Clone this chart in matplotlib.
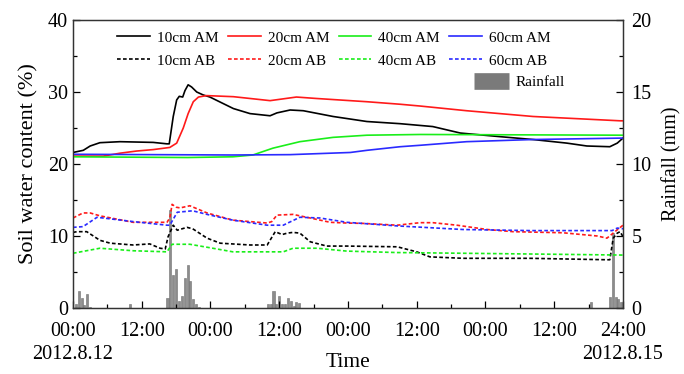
import matplotlib
matplotlib.use("Agg")
import matplotlib.pyplot as plt
from matplotlib.lines import Line2D

plt.rcParams['font.family'] = ['Liberation Serif', 'DejaVu Serif']

# ---- data (hours from 2012.8.12 00:00) ----
t_10am = [0, 1.8, 3.0, 4.7, 8.2, 14.0, 16.4, 16.8, 17.5, 18.1, 18.55, 19.15, 19.55, 20.1, 20.7, 21.6,
          22.7, 23.9, 28.0, 30.9, 34.4, 35.6, 37.9, 40.2, 45.4, 51.3, 57.1, 62.8, 67.6, 74.5, 80.3,
          86.2, 89.7, 93.7, 95.0, 96]
v_10am = [21.6, 21.9, 22.5, 22.96, 23.1, 23.0, 22.8, 22.8, 26.6, 28.9, 29.4, 29.3, 30.2, 31.0, 30.7, 30.0,
          29.6, 29.3, 27.7, 27.0, 26.7, 27.1, 27.5, 27.4, 26.6, 25.9, 25.6, 25.2, 24.3, 23.8, 23.4,
          22.9, 22.5, 22.4, 22.9, 23.6]

t_20am = [0, 5.3, 8.2, 11.1, 14.0, 16.9, 18.1, 19.25, 20.1, 21.0, 21.9, 23.3, 28.0, 34.4, 39.0, 42.5,
          51.3, 57.1, 60.6, 68.7, 80.3, 95.5, 96]
v_20am = [21.1, 21.1, 21.5, 21.8, 22.0, 22.3, 22.9, 25.0, 27.0, 28.65, 29.3, 29.5, 29.35, 28.8, 29.3, 29.1,
          28.65, 28.3, 28.05, 27.4, 26.6, 26.0, 26.0]

t_40am = [0, 10, 20, 27.9, 31.4, 34.9, 39.6, 45.4, 51.3, 60.6, 96]
v_40am = [21.0, 20.95, 20.9, 21.0, 21.25, 22.2, 23.1, 23.7, 24.0, 24.1, 24.0]

t_60am = [0, 27.9, 37.9, 48.4, 51.3, 57.1, 60.6, 68.7, 80.3, 96]
v_60am = [21.35, 21.25, 21.3, 21.6, 21.9, 22.4, 22.6, 23.1, 23.4, 23.6]

t_10ab = [0, 0.7, 2.4, 4.7, 6.5, 10.5, 13.4, 15.2, 16.1, 16.6, 17.5, 18.2, 19.9, 20.9, 23.4, 25.7,
          30.9, 33.9, 35.3, 36.5, 37.4, 38.4, 39.6, 41.4, 44.3, 47.8, 56.6, 60.0, 62.3, 68.1, 79.8,
          93.2, 93.7, 94.3, 95.0, 95.5, 96]
v_10ab = [10.5, 10.6, 10.6, 9.4, 9.0, 8.75, 8.9, 8.3, 8.2, 9.9, 11.5, 10.8, 11.2, 11.0, 9.7, 9.0,
          8.75, 8.75, 10.6, 10.2, 10.4, 10.5, 10.4, 9.2, 8.6, 8.6, 8.5, 7.8, 7.1, 6.9, 6.9,
          6.7, 6.7, 9.7, 10.4, 10.6, 9.9]

t_20ab = [0, 1.75, 3.0, 4.7, 10.5, 16.4, 16.9, 17.3, 18.0, 18.7, 20.4, 23.4, 27.9, 33.9, 34.7, 35.6,
          38.4, 41.4, 44.9, 47.8, 50.6, 56.6, 60.6, 62.8, 67.0, 72.3, 76.8, 85.5, 91.5, 93.2, 94.6, 96]
v_20ab = [12.5, 13.2, 13.2, 12.8, 11.9, 11.9, 12.5, 14.4, 14.0, 13.9, 14.2, 13.2, 12.2, 11.8, 12.0, 12.9,
          13.0, 12.5, 11.9, 11.8, 11.75, 11.5, 11.85, 11.85, 11.5, 10.9, 10.6, 10.45, 10.0, 9.7, 10.6, 11.5]

t_40ab = [0, 4.7, 10.5, 16.4, 17.3, 20.4, 24.4, 27.9, 36.7, 38.4, 42.6, 47.8, 56.6, 79.8, 96]
v_40ab = [7.6, 8.3, 7.95, 7.8, 8.85, 8.85, 8.3, 7.8, 7.8, 8.3, 8.3, 7.9, 7.7, 7.5, 7.35]

t_60ab = [0, 1.75, 4.2, 10.5, 16.4, 16.9, 18.2, 20.9, 23.4, 27.9, 33.9, 36.7, 39.6, 43.1, 47.8,
          56.6, 68.1, 79.8, 94.1, 95.0, 96]
v_60ab = [11.2, 11.3, 12.6, 12.0, 11.5, 11.5, 13.3, 13.5, 13.0, 12.2, 11.5, 11.5, 12.6, 12.5, 11.9,
          11.4, 10.9, 10.75, 10.75, 11.1, 11.0]

rain_t = [0.5, 1.0, 1.5, 2.0, 2.5, 3.0, 10.0,
          16.5, 17.0, 17.5, 18.0, 18.5, 19.0, 19.5, 20.0, 20.5, 21.0, 21.5, 22.0,
          34.0, 34.5, 35.0, 35.5, 36.0, 36.5, 37.0, 37.5, 38.0, 38.5, 39.0, 39.5,
          90.4, 93.8, 94.3, 94.7, 95.1, 95.6]
rain_mm = [0.3, 1.2, 0.7, 0.2, 0.95, 0.1, 0.25,
           0.7, 6.8, 2.3, 2.7, 0.5, 0.8, 2.1, 3.0, 1.9, 0.6, 0.25, 0.1,
           0.3, 0.3, 1.15, 0.25, 0.8, 0.3, 0.3, 0.7, 0.5, 0.15, 0.4, 0.35,
           0.45, 0.75, 5.2, 0.75, 0.6, 0.45]

tick_hours = [0, 12, 24, 36, 48, 60, 72, 84, 96]
tick_labels = ['00:00', '12:00', '00:00', '12:00', '00:00', '12:00', '00:00', '12:00', '24:00']
date_start = '2012.8.12'
date_end = '2012.8.15'

# ---- figure ----
fig = plt.figure(figsize=(6.84, 3.74), dpi=100)
ax = fig.add_axes([0.1067, 0.1765, 0.8041, 0.77])
ax2 = ax.twinx()
ax.set_zorder(ax2.get_zorder() + 1)
ax.patch.set_visible(False)

ax2.bar(rain_t, rain_mm, width=0.36, color='#8c8c8c', edgecolor='#707070', linewidth=0.4)

lw = 1.2
ds = (0, (2.2, 1.4))
series = [
    (t_10am, v_10am, 'black', '-', '10cm AM'),
    (t_20am, v_20am, '#ff1a1a', '-', '20cm AM'),
    (t_40am, v_40am, '#1aee1a', '-', '40cm AM'),
    (t_60am, v_60am, '#2a2aff', '-', '60cm AM'),
    (t_10ab, v_10ab, 'black', ds, '10cm AB'),
    (t_20ab, v_20ab, '#ff1a1a', ds, '20cm AB'),
    (t_40ab, v_40ab, '#1aee1a', ds, '40cm AB'),
    (t_60ab, v_60ab, '#2a2aff', ds, '60cm AB'),
]
handles = {}
for t, v, c, ls, lab in series:
    h, = ax.plot(t, v, color=c, linestyle=ls, lw=lw, label=lab)
    handles[lab] = h

ax.set_xlim(0, 96)
ax.set_ylim(0, 40)
ax2.set_ylim(0, 20)
ax.set_xticks(tick_hours)
ax.set_xticklabels(tick_labels)
ax.set_xticks(range(6, 96, 12), minor=True)
ax.set_yticks([0, 10, 20, 30, 40])
ax.set_yticks([5, 15, 25, 35], minor=True)
ax2.set_yticks([0, 5, 10, 15, 20])
ax2.set_yticks([2.5, 7.5, 12.5, 17.5], minor=True)

fs = 14.5
for a in (ax, ax2):
    a.tick_params(which='both', direction='in', labelsize=fs, top=False)
    a.tick_params(which='major', length=5, width=0.9)
    a.tick_params(which='minor', length=3, width=0.9)
    for s in a.spines.values():
        s.set_linewidth(0.9)
        s.set_color('#333333')
ax.tick_params(axis='y', right=False)
ax.tick_params(axis='x', pad=10)
ax2.tick_params(axis='y', pad=6)

ax.set_ylabel('Soil water content (%)', fontsize=16, labelpad=7)
ax2.set_ylabel('Rainfall (mm)', fontsize=14.5, labelpad=8)
ax.set_xlabel('Time', fontsize=15.5, labelpad=9)

ax.text(0, -0.128, date_start, transform=ax.get_xaxis_transform(), ha='center', va='top', fontsize=fs)
ax.text(96, -0.128, date_end, transform=ax.get_xaxis_transform(), ha='center', va='top', fontsize=fs)

hl = [handles['10cm AM'], handles['10cm AB'],
      handles['20cm AM'], handles['20cm AB'],
      handles['40cm AM'], handles['40cm AB'],
      handles['60cm AM'], handles['60cm AB']]
ll = ['10cm AM', '10cm AB', '20cm AM', '20cm AB', '40cm AM', '40cm AB', '60cm AM', '60cm AB']
leg = ax.legend(hl, ll, ncol=4, loc='upper left', bbox_to_anchor=(0.08, 0.962), frameon=False,
                fontsize=11, handlelength=2.15, handletextpad=0.45, columnspacing=0.62, labelspacing=0.6,
                borderaxespad=0, borderpad=0)
ax.add_artist(leg)

rain_h = Line2D([], [], color='#7a7a7a', lw=12, solid_capstyle='butt')
ax.legend([rain_h], ['Rainfall'], loc='upper right', bbox_to_anchor=(0.895, 0.808), frameon=False,
          fontsize=11, handlelength=2.3, handletextpad=0.45, borderaxespad=0, borderpad=0)

fig.savefig('out.png', dpi=100)
